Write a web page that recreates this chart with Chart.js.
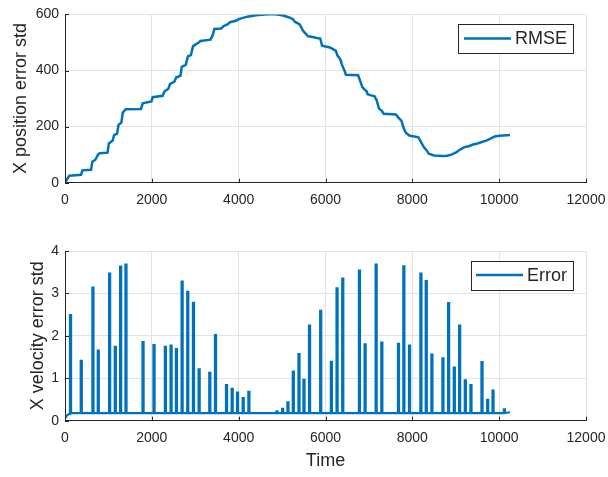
<!DOCTYPE html>
<html><head><meta charset="utf-8">
<script src="https://cdn.jsdelivr.net/npm/chart.js@4"></script>
<style>
html,body{margin:0;padding:0;background:#fff;}
#c1{position:absolute;left:0;top:0;}
#c2{position:absolute;left:0;top:230px;}
</style></head><body>
<canvas id="c1" width="608" height="230"></canvas>
<canvas id="c2" width="608" height="247"></canvas>
<script>
// ---- data ----
const xTickValues = [0, 2000, 4000, 6000, 8000, 10000, 12000];
const posYTicks = [0, 200, 400, 600];
const velYTicks = [0, 1, 2, 3, 4];

const posTime = [0,30,100,370,400,600,630,700,760,800,980,1010,1100,1130,1200,1230,1300,1330,1400,1750,1790,1990,2020,2250,2290,2380,2420,2520,2560,2660,2690,2780,2830,2900,2950,3080,3120,3350,3400,3440,3600,3650,3750,3800,3950,4000,4200,4400,4600,4800,5000,5150,5250,5300,5400,5440,5480,5520,5600,5680,5800,5880,5920,6100,6150,6240,6270,6340,6380,6440,6470,6750,6800,6850,6950,6970,7130,7180,7230,7300,7340,7620,7680,7750,7800,7850,7930,8140,8200,8260,8330,8380,8500,8700,8800,8900,9000,9100,9200,9300,9400,9500,9600,9700,9800,9900,10000,10100,10250];
const posStd  = [0,8,25,28,44,46,75,82,100,105,107,140,150,170,175,205,215,250,262,263,283,290,305,310,325,335,352,360,375,382,413,420,450,455,487,500,505,510,525,548,550,558,565,572,578,583,592,597,600,601,597,590,583,573,565,555,542,535,522,520,516,514,488,482,478,470,455,440,420,398,385,383,362,340,325,315,308,293,265,255,246,243,232,220,195,178,168,162,145,128,115,103,97,95,96,100,107,118,127,130,136,140,145,150,157,165,167,168,170];

const velStartTime = [0, 40, 100];
const velStartVal  = [0.05, 0.12, 0.16];
const velFloor = 0.18;
const velEnd = [10250, 0.2];
const spikeTime   = [115,362,631,754,1015,1146,1269,1392,1785,2038,2300,2431,2554,2685,2815,2946,3077,3323,3454,3708,3838,3962,4092,4223,4869,5000,5123,5246,5377,5492,5620,5877,6123,6254,6385,6769,6900,7154,7285,7669,7792,7923,8185,8308,8438,8692,8823,8954,9077,9208,9338,9592,9723,9846,10108];
const spikeHeight = [2.49,1.41,3.14,1.65,3.47,1.74,3.63,3.68,1.85,1.78,1.74,1.77,1.69,3.28,3.04,2.78,1.21,1.13,2.02,0.84,0.75,0.66,0.53,0.68,0.22,0.28,0.43,1.16,1.57,0.96,2.24,2.59,1.39,3.12,3.35,3.54,1.80,3.68,1.84,1.81,3.64,1.77,3.47,3.29,1.56,1.47,2.77,1.25,2.24,0.95,0.84,1.38,0.49,0.71,0.27];
const spikeWidth = 25;

// ---- build series ----
const posPoints = posTime.map((t, i) => ({x: t, y: posStd[i]}));
const velPoints = velStartTime.map((t, i) => ({x: t, y: velStartVal[i]}));
spikeTime.forEach((t, i) => {
  velPoints.push({x: t, y: velFloor}, {x: t, y: spikeHeight[i]},
                 {x: t + spikeWidth, y: spikeHeight[i]}, {x: t + spikeWidth, y: velFloor});
});
velPoints.push({x: velEnd[0], y: velEnd[1]});

// ---- styling ----
const BLUE = '#0072BD';
const AX = '#262626';
const GRID = '#e3e3e3';
const FONT = 'Liberation Sans, Arial, Helvetica, sans-serif';

const inwardTicks = {
  id: 'inwardTicks',
  afterDraw(chart) {
    const {ctx, chartArea: a, scales: {x, y}} = chart;
    ctx.save();
    ctx.strokeStyle = AX; ctx.lineWidth = 1;
    ctx.beginPath();
    x.ticks.forEach(t => { const px = Math.round(x.getPixelForValue(t.value)) + 0.5; ctx.moveTo(px, a.bottom); ctx.lineTo(px, a.bottom - 4); });
    y.ticks.forEach(t => { const py = Math.round(y.getPixelForValue(t.value)) + 0.5; ctx.moveTo(a.left, py); ctx.lineTo(a.left + 4, py); });
    ctx.stroke();
    ctx.restore();
  }
};

const boxLegend = {
  id: 'boxLegend',
  afterDraw(chart, args, opts) {
    const {ctx, chartArea: a} = chart;
    ctx.save();
    ctx.font = '18px ' + FONT;
    const label = chart.data.datasets[0].label;
    const tw = ctx.measureText(label).width;
    const h = 29;
    const w = 5.5 + 47 + 4 + tw + 6;
    const right = a.right - 13;
    const left = right - w;
    const top = a.top + 9.5;
    ctx.fillStyle = '#fff';
    ctx.fillRect(left, top, w, h);
    ctx.strokeStyle = AX; ctx.lineWidth = 1;
    ctx.strokeRect(Math.round(left) + 0.5, Math.round(top) + 0.5, Math.round(w), h);
    ctx.strokeStyle = BLUE; ctx.lineWidth = 2.5;
    ctx.beginPath();
    ctx.moveTo(left + 5.5, top + h / 2); ctx.lineTo(left + 52.5, top + h / 2);
    ctx.stroke();
    ctx.fillStyle = AX;
    ctx.textBaseline = 'middle';
    ctx.fillText(label, left + 56.5, top + h / 2 + 1);
    ctx.restore();
  }
};

function makeOptions(yMin, yMax, yStep, yTitle, yTitlePad, xHeight, padTop, showXTitle) {
  return {
    responsive: false,
    animation: false,
    layout: {padding: {top: padTop, right: 22, left: 0, bottom: 0}},
    plugins: {legend: {display: false}, tooltip: {enabled: false}},
    scales: {
      x: {
        type: 'linear', min: 0, max: 12000,
        afterBuildTicks: s => { s.ticks = xTickValues.map(v => ({value: v})); },
        afterFit: s => { s.height = xHeight; },
        grid: {color: GRID, drawTicks: true, tickLength: 9, tickColor: 'rgba(0,0,0,0)'},
        border: {display: true, color: AX},
        ticks: {color: AX, padding: 0, font: {family: FONT, size: 14}, maxRotation: 0, callback: v => String(v)},
        title: {display: showXTitle, text: 'Time', color: AX, font: {family: FONT, size: 18}, padding: {top: 0, bottom: 5}}
      },
      y: {
        type: 'linear', min: yMin, max: yMax,
        ticks: {stepSize: yStep, color: AX, padding: 6, font: {family: FONT, size: 14}, callback: v => String(v)},
        afterFit: s => { s.width = 65; },
        grid: {color: GRID, drawTicks: false},
        border: {display: true, color: AX},
        title: {display: true, text: yTitle, color: AX, font: {family: FONT, size: 18}, padding: {top: yTitlePad, bottom: 0}}
      }
    }
  };
}

new Chart(document.getElementById('c1'), {
  type: 'line',
  data: {datasets: [{label: 'RMSE', data: posPoints, borderColor: BLUE, borderWidth: 2.5, pointRadius: 0, tension: 0, fill: false}]},
  options: makeOptions(posYTicks[0], posYTicks[posYTicks.length - 1], 200, 'X position error std', 10, 47.3, 10.7, false),
  plugins: [inwardTicks, boxLegend]
});

new Chart(document.getElementById('c2'), {
  type: 'line',
  data: {datasets: [{label: 'Error', data: velPoints, borderColor: BLUE, borderWidth: 2.2, pointRadius: 0, tension: 0, fill: false}]},
  options: makeOptions(velYTicks[0], velYTicks[velYTicks.length - 1], 1, 'X velocity error std', 27, 56.3, 21, true),
  plugins: [inwardTicks, boxLegend]
});
</script>
</body></html>
